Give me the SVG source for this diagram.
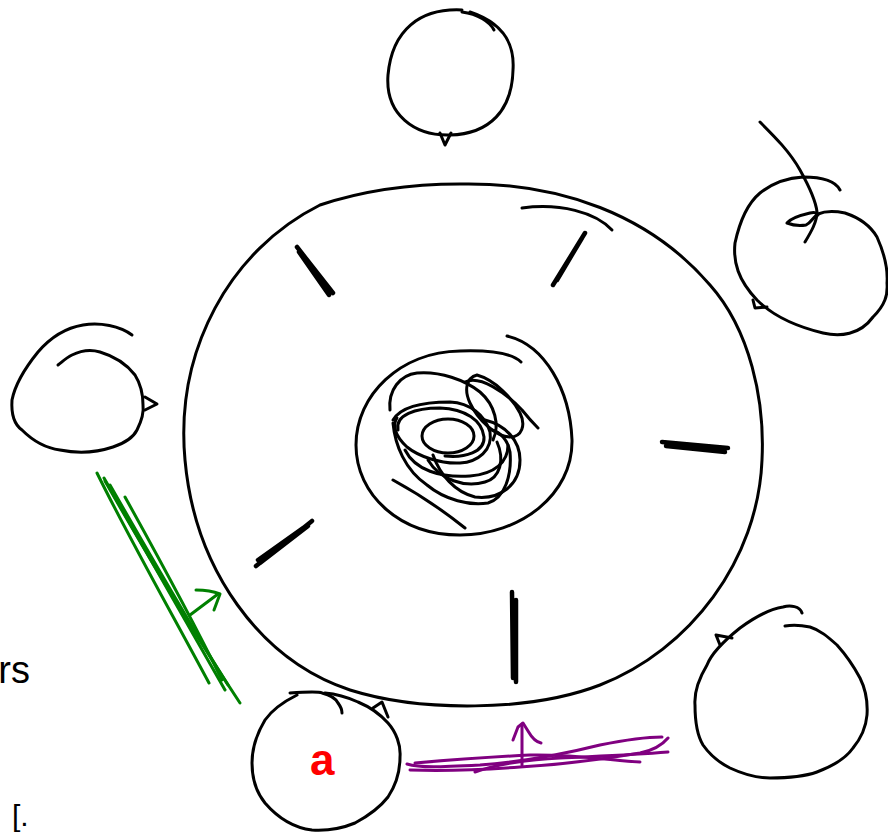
<svg xmlns="http://www.w3.org/2000/svg" width="888" height="833" viewBox="0 0 888 833">
  <style>
    .ink { fill: none; stroke: #000; stroke-width: 3; stroke-linecap: round; stroke-linejoin: round; }
    .spoke { fill: none; stroke: #000; stroke-width: 4.5; stroke-linecap: round; stroke-linejoin: round; }
    .scribble { fill: none; stroke: #000; stroke-width: 3; stroke-linecap: round; stroke-linejoin: round; }
    .green { fill: none; stroke: #008000; stroke-width: 3; stroke-linecap: round; stroke-linejoin: round; }
    .purple { fill: none; stroke: #800080; stroke-width: 3; stroke-linecap: round; stroke-linejoin: round; }
    .hand { font-family: "Liberation Sans", "DejaVu Sans", sans-serif; }
  </style>
  <rect width="888" height="833" fill="#fff"/>

  <!-- hub: outer ring with spokes -->
  <g id="hub">
    <path class="ink" d="M460,184 C560,182 650,215 710,285 C750,330 765,400 762,460 C758,560 690,650 600,685 C530,712 420,712 350,690 C260,660 195,570 185,460 C175,350 230,250 320,205 C365,190 410,184 460,184 Z"/>
    <path class="ink" d="M522,208 C560,203 595,212 612,230"/>
    <g id="spokes">
      <path class="spoke" d="M297,247 L333,293 M299,252 L329,295"/>
      <path class="spoke" d="M585,233 L553,285 M582,238 L557,280"/>
      <path class="spoke" d="M662,442 L728,448 M666,446 L725,452"/>
      <path class="spoke" d="M312,521 L256,566 M308,526 L260,563 M303,528 L258,560"/>
      <path class="spoke" d="M512,592 L513,678 M516,600 L516,682"/>
    </g>
  </g>

  <!-- inner core with its scribble -->
  <g id="core">
    <path class="ink" d="M507,336 C545,345 570,390 572,440 C573,495 520,535 460,535 C400,535 356,495 356,445 C356,395 400,352 460,351 C490,350 512,353 521,362"/>
    <path class="scribble" d="M390,410 C388,390 400,375 417,373 C440,371 465,380 480,392 C495,405 500,425 493,440"/>
    <path class="scribble" d="M393,420 C400,408 420,402 450,402 C470,403 485,415 490,432 C493,450 478,462 460,463 C440,464 418,456 407,447 C395,436 392,425 397,418"/>
    <path class="scribble" d="M398,430 C395,415 415,408 440,408 C465,409 482,420 484,437 C485,452 465,458 445,456"/>
    <ellipse class="scribble" cx="448" cy="436" rx="26" ry="17"/>
    <path class="scribble" d="M393,423 C395,445 405,470 427,485 C445,500 470,506 488,503 C505,498 512,475 510,452 C508,440 500,432 492,430"/>
    <path class="scribble" d="M433,455 C440,475 455,492 475,497 C500,500 520,485 520,460 C520,440 505,425 485,420"/>
    <path class="scribble" d="M428,460 C440,480 465,488 485,482 C500,478 505,460 497,442"/>
    <path class="scribble" d="M405,450 C415,470 440,478 470,476 C495,474 508,462 508,445"/>
    <path class="scribble" d="M477,375 C495,380 512,398 520,413 C526,425 522,437 510,437 C496,437 478,420 470,403 C464,390 466,378 477,375 Z"/>
    <path class="scribble" d="M465,382 C480,375 505,392 522,410 C530,420 536,426 538,428"/>
    <path class="scribble" d="M393,480 C415,492 440,508 465,528"/>
  </g>

  <!-- satellite nodes -->
  <g id="node-top">
    <path class="ink" d="M462,10 C420,8 392,30 388,75 C385,115 415,136 450,135 C490,134 512,110 513,70 C515,40 500,22 470,12"/>
    <path class="ink" d="M462,12 C478,14 490,22 494,30"/>
    <path class="ink" d="M440,133 L445,145 L451,133"/>
  </g>

  <g id="node-top-right">
    <path class="ink" d="M840,190 C835,180 820,177 803,177 C785,178 770,185 760,193 C748,203 740,220 735,243 C733,262 738,280 757,300 C770,313 790,325 823,333 C840,337 860,335 873,317 C885,305 888,295 887,283 C888,270 885,255 877,237 C870,225 860,218 845,213 C835,211 825,211 818,214 C812,218 812,222 806,225 C800,226 792,225 787,223 C790,219 797,216 810,213 C815,212 818,213 818,215"/>
    <path class="ink" d="M760,122 C775,137 790,152 800,170 C810,188 816,202 817,212 C817,222 811,232 805,242"/>
    <path class="ink" d="M753,300 L755,308 L767,307"/>
  </g>

  <g id="node-left">
    <path class="ink" d="M132,335 C120,326 100,322 83,325 C65,328 50,338 38,352 C25,368 15,385 12,400 C11,415 15,425 22,430 C32,440 45,448 60,450 C75,453 95,453 113,447 C125,443 133,438 137,430 C142,420 144,412 143,405 C143,393 140,383 135,375 C128,366 117,357 100,352 C90,349 80,351 72,355 C66,358 62,362 58,365"/>
    <path class="ink" d="M145,397 L157,404 L145,410"/>
  </g>

  <g id="node-bottom-right">
    <path class="ink" d="M802,613 C800,606 790,605 783,607 C770,609 755,617 740,628 C725,640 712,652 707,665 C698,680 694,692 695,705 C695,722 697,735 703,745 C710,755 718,762 730,768 C745,775 758,778 770,778 C787,778 803,777 817,772 C833,766 846,758 853,748 C862,737 866,727 867,715 C868,700 866,690 860,678 C852,663 846,655 837,645 C828,637 820,630 810,627 C800,625 792,625 785,626"/>
    <path class="ink" d="M720,645 L716,635 L732,638"/>
  </g>

  <g id="node-bottom">
    <path class="ink" d="M290,693 C305,692 320,692 322,693 C330,695 336,699 338,703 C341,707 342,710 342,713"/>
    <path class="ink" d="M297,695 C283,702 272,710 265,720 C256,735 252,750 252,763 C252,778 256,792 265,803 C278,818 295,828 312,830 C328,831 343,828 355,823 C370,815 381,806 388,797 C396,785 400,772 400,757 C401,745 396,732 388,723 C380,714 370,707 358,702 C347,697 337,694 325,693"/>
    <path class="ink" d="M373,708 L382,702 L388,717"/>
    <text class="hand" x="310" y="775" font-size="44" font-weight="bold" fill="#ff0000">a</text>
  </g>

  <!-- connectors -->
  <g id="connectors">
    <g id="green-link">
      <path class="green" d="M97,473 C130,540 170,610 209,683"/>
      <path class="green" d="M104,478 C145,550 185,620 225,690"/>
      <path class="green" d="M105,481 C150,560 195,635 240,703"/>
      <path class="green" d="M110,485 C150,555 190,625 228,685"/>
      <path class="green" d="M125,497 C160,560 195,625 222,680"/>
      <path class="green" d="M190,615 L218,594"/>
      <path class="green" d="M196,590 C205,590 215,592 220,594 L214,610"/>
    </g>
    <g id="purple-link">
      <path class="purple" d="M407,764 C420,768 440,767 480,765 C520,762 560,755 600,745 C625,740 645,737 662,737"/>
      <path class="purple" d="M410,770 C440,771 480,770 520,767 C570,764 610,758 640,753 C655,750 663,744 668,738"/>
      <path class="purple" d="M475,772 C495,765 520,760 560,758 C600,756 630,755 668,752"/>
      <path class="purple" d="M415,763 C450,760 490,757 530,755 C570,754 610,760 640,762"/>
      <path class="purple" d="M522,765 L522,724"/>
      <path class="purple" d="M513,740 L518,727 L523,723 L528,731 C532,738 536,742 541,743"/>
    </g>
  </g>

  <!-- handwritten notes at the edges -->
  <text class="hand" x="30" y="683" font-size="38" text-anchor="end" fill="#000">rs</text>
  <text class="hand" x="12" y="826" font-size="30" fill="#000">[.</text>
</svg>
